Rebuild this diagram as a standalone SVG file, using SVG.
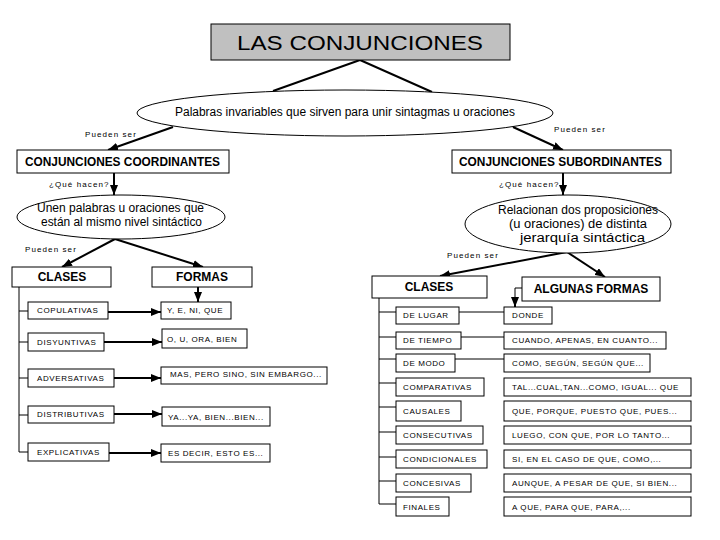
<svg xmlns="http://www.w3.org/2000/svg" width="720" height="540" viewBox="0 0 720 540">
<defs>
<marker id="ah" markerWidth="10" markerHeight="8" refX="10" refY="4" orient="auto" markerUnits="userSpaceOnUse"><path d="M0,0 L10,4 L0,8 z" fill="#000"/></marker>
<style>
.box{fill:#fff;stroke:#000;stroke-width:1}
.title{fill:#c0c0c0;stroke:#000;stroke-width:1}
.ell{fill:#fff;stroke:#000;stroke-width:1}
.t{font-family:"Liberation Sans",Arial,sans-serif;fill:#000}
.big{font-size:20px;font-weight:normal}
.mid{font-size:12px}
.lab{font-size:12px;font-weight:bold}
.sm{font-size:8px;letter-spacing:0.6px}
.note{font-size:8px;letter-spacing:1.1px}
.thick{stroke:#000;stroke-width:2;fill:none}
.thin{stroke:#000;stroke-width:1;fill:none}
</style>
</defs>
<rect width="720" height="540" fill="#fff"/>

<g id="connectors">
<line class="thick" x1="360" y1="60" x2="273" y2="91"/>
<line class="thick" x1="360" y1="60" x2="432" y2="92"/>
<line class="thick" x1="173" y1="127" x2="108" y2="150" marker-end="url(#ah)"/>
<line class="thick" x1="513" y1="127" x2="563" y2="150" marker-end="url(#ah)"/>
<line class="thick" x1="114" y1="173" x2="114" y2="195" marker-end="url(#ah)"/>
<line class="thick" x1="563" y1="173" x2="563" y2="195" marker-end="url(#ah)"/>
<line class="thick" x1="115" y1="239" x2="62" y2="267" marker-end="url(#ah)"/>
<line class="thick" x1="115" y1="239" x2="203" y2="267" marker-end="url(#ah)"/>
<line class="thick" x1="567" y1="252" x2="440" y2="276" marker-end="url(#ah)"/>
<line class="thick" x1="567" y1="252" x2="605" y2="277" marker-end="url(#ah)"/>
<line class="thick" x1="198" y1="287" x2="198" y2="302" marker-end="url(#ah)"/>
<polyline class="thin" points="522,288 515,288 515,300"/>
<line class="thick" x1="515" y1="298" x2="515" y2="307" marker-end="url(#ah)"/>
<!-- left table -->
<polyline class="thin" points="19,287 19,452 28,452"/>
<line class="thin" x1="19" y1="311" x2="28" y2="311"/>
<line class="thin" x1="19" y1="342" x2="28" y2="342"/>
<line class="thin" x1="19" y1="378" x2="28" y2="378"/>
<line class="thin" x1="19" y1="415" x2="28" y2="415"/>
<line class="thick" x1="108" y1="312" x2="161" y2="312" marker-end="url(#ah)"/>
<line class="thick" x1="104" y1="342" x2="162" y2="342" marker-end="url(#ah)"/>
<line class="thick" x1="114" y1="378" x2="161" y2="378" marker-end="url(#ah)"/>
<line class="thick" x1="114" y1="414" x2="162" y2="414" marker-end="url(#ah)"/>
<line class="thick" x1="109" y1="453" x2="161" y2="453" marker-end="url(#ah)"/>
<!-- right table -->
<polyline class="thin" points="379,298 379,504 396,504"/>
<line class="thin" x1="379" y1="312" x2="396" y2="312"/>
<line class="thin" x1="379" y1="337" x2="396" y2="337"/>
<line class="thin" x1="379" y1="359" x2="396" y2="359"/>
<line class="thin" x1="379" y1="383" x2="396" y2="383"/>
<line class="thin" x1="379" y1="407" x2="396" y2="407"/>
<line class="thin" x1="379" y1="432" x2="396" y2="432"/>
<line class="thin" x1="379" y1="457" x2="396" y2="457"/>
<line class="thin" x1="379" y1="481" x2="396" y2="481"/>
<line class="thin" x1="459" y1="312" x2="504" y2="312"/>
<line class="thin" x1="461" y1="337" x2="504" y2="337"/>
<line class="thin" x1="455" y1="359" x2="504" y2="359"/>
<text class="t note" x="85" y="137">Pueden ser</text>
<text class="t note" x="554" y="132">Pueden ser</text>
<text class="t note" x="49" y="187">¿Qué hacen?</text>
<text class="t note" x="499" y="187">¿Qué hacen?</text>
<text class="t note" x="25" y="252">Pueden ser</text>
<text class="t note" x="447" y="258">Pueden ser</text>
</g>

<g id="title">
<rect class="title" x="211" y="24" width="299" height="36"/>
<text class="t big" x="237" y="50" textLength="246" lengthAdjust="spacingAndGlyphs">LAS CONJUNCIONES</text>
</g>
<g id="definicion">
<ellipse class="ell" cx="345" cy="113" rx="208" ry="23"/>
<text class="t mid" x="175" y="116" textLength="340" lengthAdjust="spacingAndGlyphs">Palabras invariables que sirven para unir sintagmas u oraciones</text>
</g>
<g id="coordinantes">
<rect class="box" x="17" y="150" width="212" height="23"/>
<text class="t lab" x="25" y="166" textLength="195" lengthAdjust="spacingAndGlyphs">CONJUNCIONES COORDINANTES</text>
</g>
<g id="subordinantes">
<rect class="box" x="452" y="150" width="219" height="23"/>
<text class="t lab" x="459" y="166" textLength="203" lengthAdjust="spacingAndGlyphs">CONJUNCIONES SUBORDINANTES</text>
</g>
<g id="coord-def">
<ellipse class="ell" cx="121" cy="217" rx="104" ry="22"/>
<text class="t mid" x="37" y="212" textLength="167" lengthAdjust="spacingAndGlyphs">Unen palabras u oraciones que</text>
<text class="t mid" x="41" y="226" textLength="161" lengthAdjust="spacingAndGlyphs">están al mismo nivel sintáctico</text>
</g>
<g id="sub-def">
<ellipse class="ell" cx="568" cy="224" rx="103" ry="29"/>
<text class="t mid" x="498" y="214" textLength="160" lengthAdjust="spacingAndGlyphs">Relacionan dos proposiciones</text>
<text class="t mid" x="509" y="228" textLength="138" lengthAdjust="spacingAndGlyphs">(u oraciones) de distinta</text>
<text class="t mid" x="520" y="242" textLength="125" lengthAdjust="spacingAndGlyphs">jerarquía sintáctica</text>
</g>
<g id="clases-coord">
<rect class="box" x="12" y="267" width="99" height="20"/>
<text class="t lab" x="62" y="281" text-anchor="middle">CLASES</text>
</g>
<g id="formas-coord">
<rect class="box" x="152" y="267" width="100" height="20"/>
<text class="t lab" x="202" y="281" text-anchor="middle">FORMAS</text>
</g>
<g id="clases-sub">
<rect class="box" x="372" y="276" width="115" height="22"/>
<text class="t lab" x="429" y="291" text-anchor="middle">CLASES</text>
</g>
<g id="formas-sub">
<rect class="box" x="522" y="277" width="138" height="24"/>
<text class="t lab" x="591" y="293" text-anchor="middle">ALGUNAS FORMAS</text>
</g>

<g id="copulativas"><rect class="box" x="28" y="302" width="80" height="17"/><text class="t sm" x="37" y="313">COPULATIVAS</text></g>
<g id="f-copulativas"><rect class="box" x="161" y="302" width="70" height="17"/><text class="t sm" x="167" y="313">Y, E, NI, QUE</text></g>
<g id="disyuntivas"><rect class="box" x="28" y="333" width="76" height="18"/><text class="t sm" x="37" y="345">DISYUNTIVAS</text></g>
<g id="f-disyuntivas"><rect class="box" x="162" y="329" width="85" height="19"/><text class="t sm" x="167" y="342">O, U, ORA, BIEN</text></g>
<g id="adversativas"><rect class="box" x="28" y="369" width="86" height="18"/><text class="t sm" x="37" y="381">ADVERSATIVAS</text></g>
<g id="f-adversativas"><rect class="box" x="161" y="367" width="166" height="17"/><text class="t sm" x="170" y="377">MAS, PERO SINO, SIN EMBARGO...</text></g>
<g id="distributivas"><rect class="box" x="28" y="406" width="86" height="17"/><text class="t sm" x="37" y="417">DISTRIBUTIVAS</text></g>
<g id="f-distributivas"><rect class="box" x="162" y="407" width="108" height="19"/><text class="t sm" x="168" y="420">YA...YA, BIEN...BIEN...</text></g>
<g id="explicativas"><rect class="box" x="28" y="443" width="81" height="18"/><text class="t sm" x="37" y="455">EXPLICATIVAS</text></g>
<g id="f-explicativas"><rect class="box" x="161" y="444" width="109" height="18"/><text class="t sm" x="168" y="456">ES DECIR, ESTO ES...</text></g>

<g id="lugar"><rect class="box" x="396" y="307" width="63" height="17"/><text class="t sm" x="403" y="318">DE LUGAR</text></g>
<g id="f-lugar"><rect class="box" x="504" y="307" width="48" height="17"/><text class="t sm" x="512" y="318">DONDE</text></g>
<g id="tiempo"><rect class="box" x="396" y="332" width="65" height="17"/><text class="t sm" x="403" y="343">DE TIEMPO</text></g>
<g id="f-tiempo"><rect class="box" x="504" y="332" width="162" height="17"/><text class="t sm" x="512" y="343">CUANDO, APENAS, EN CUANTO...</text></g>
<g id="modo"><rect class="box" x="396" y="354" width="59" height="18"/><text class="t sm" x="403" y="366">DE MODO</text></g>
<g id="f-modo"><rect class="box" x="504" y="354" width="146" height="18"/><text class="t sm" x="512" y="366">COMO, SEGÚN, SEGÚN QUE...</text></g>
<g id="comparativas"><rect class="box" x="396" y="378" width="88" height="18"/><text class="t sm" x="403" y="390">COMPARATIVAS</text></g>
<g id="f-comparativas"><rect class="box" x="504" y="378" width="187" height="18"/><text class="t sm" x="512" y="390">TAL...CUAL,TAN...COMO, IGUAL... QUE</text></g>
<g id="causales"><rect class="box" x="396" y="401" width="65" height="20"/><text class="t sm" x="403" y="414">CAUSALES</text></g>
<g id="f-causales"><rect class="box" x="504" y="401" width="187" height="20"/><text class="t sm" x="512" y="414">QUE, PORQUE, PUESTO QUE, PUES...</text></g>
<g id="consecutivas"><rect class="box" x="396" y="426" width="87" height="18"/><text class="t sm" x="403" y="438">CONSECUTIVAS</text></g>
<g id="f-consecutivas"><rect class="box" x="504" y="426" width="187" height="18"/><text class="t sm" x="512" y="438">LUEGO, CON QUE, POR LO TANTO...</text></g>
<g id="condicionales"><rect class="box" x="396" y="450" width="91" height="18"/><text class="t sm" x="403" y="462">CONDICIONALES</text></g>
<g id="f-condicionales"><rect class="box" x="504" y="450" width="187" height="18"/><text class="t sm" x="512" y="462">SI, EN EL CASO DE QUE, COMO,...</text></g>
<g id="concesivas"><rect class="box" x="396" y="474" width="75" height="18"/><text class="t sm" x="403" y="486">CONCESIVAS</text></g>
<g id="f-concesivas"><rect class="box" x="504" y="474" width="187" height="18"/><text class="t sm" x="512" y="486">AUNQUE, A PESAR DE QUE, SI BIEN...</text></g>
<g id="finales"><rect class="box" x="396" y="497" width="53" height="19"/><text class="t sm" x="403" y="510">FINALES</text></g>
<g id="f-finales"><rect class="box" x="504" y="497" width="187" height="19"/><text class="t sm" x="512" y="510">A QUE, PARA QUE, PARA,...</text></g>
</svg>
